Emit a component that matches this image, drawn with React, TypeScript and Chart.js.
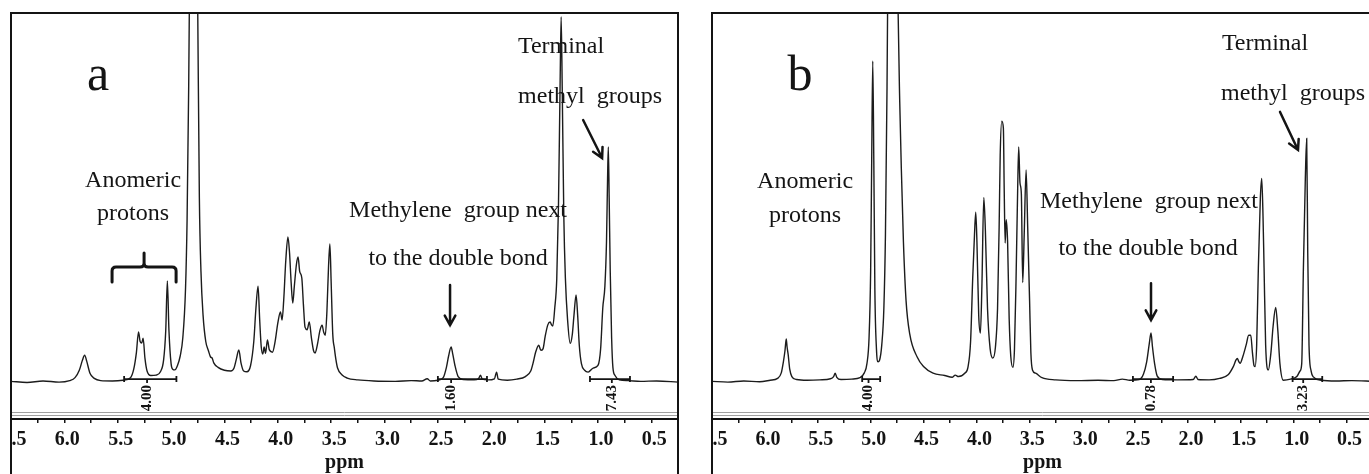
import React, { useEffect, useRef } from 'react';
import { Chart, registerables } from 'chart.js';

Chart.register(...registerables);

// ---------- axis ----------
const axisMin = 0.25;
const axisMax = 6.5;
const tickStep = 0.25;
const yMin = -10;
const yMax = 100;

// ---------- panel a spectrum (ppm, intensity) ----------
const ppmA = [
  6.5, 6.35, 6.2, 6.05, 5.95, 5.9, 5.86, 5.83, 5.81, 5.79, 5.76, 5.72, 5.66, 5.55, 5.45, 5.38, 5.35, 5.325, 5.305, 5.29,
  5.275, 5.262, 5.245, 5.225, 5.19, 5.14, 5.1, 5.07, 5.05, 5.035, 5.02, 5.0, 4.985, 4.965, 4.94, 4.915, 4.89, 4.865, 4.85, 4.835,
  4.815, 4.79, 4.765, 4.75, 4.735, 4.72, 4.7, 4.675, 4.65, 4.63, 4.615, 4.6, 4.56, 4.5, 4.44, 4.41, 4.39, 4.365, 4.345, 4.32,
  4.29, 4.255, 4.225, 4.205, 4.185, 4.17, 4.155, 4.14, 4.128, 4.115, 4.097, 4.08, 4.05, 4.025, 4.0, 3.975, 3.96, 3.945, 3.925, 3.905,
  3.89, 3.875, 3.86, 3.845, 3.825, 3.81, 3.795, 3.775, 3.76, 3.745, 3.725, 3.705, 3.685, 3.665, 3.65, 3.63, 3.605, 3.585, 3.57, 3.555,
  3.54, 3.525, 3.512, 3.5, 3.485, 3.47, 3.455, 3.44, 3.4, 3.35, 3.25, 3.1, 2.9, 2.75, 2.65, 2.6, 2.57, 2.5, 2.45, 2.42,
  2.4, 2.376, 2.36, 2.34, 2.31, 2.26, 2.16, 2.12, 2.1, 2.085, 2.03, 1.97, 1.95, 1.935, 1.85, 1.76, 1.68, 1.63, 1.605, 1.585,
  1.555, 1.535, 1.515, 1.495, 1.47, 1.448, 1.435, 1.423, 1.405, 1.386, 1.37, 1.355, 1.345, 1.335, 1.32, 1.305, 1.285, 1.26, 1.24, 1.225,
  1.205, 1.19, 1.175, 1.155, 1.125, 1.092, 1.045, 1.0, 0.975, 0.955, 0.935, 0.92, 0.91, 0.903, 0.895, 0.885, 0.872, 0.86, 0.84, 0.8,
  0.72, 0.6, 0.45, 0.25,
];
const intA = [
  0.2, -0.1, 0.3, 0.0, 0.4, 1.2, 3.2, 6.0, 7.3, 5.6, 2.4, 1.0, 0.4, 0.3, 0.5, 1.2, 3.5, 8.0, 13.6, 11.0,
  10.6, 11.9, 6.5, 3.0, 1.8, 1.9, 2.8, 6.0, 14.0, 27.4, 14.0, 5.0, 3.5, 3.3, 4.5, 7.0, 12.0, 25.0, 44.0, 80.0,
  150.0, 260.0, 150.0, 100.0, 50.0, 30.0, 18.0, 11.0, 8.5, 6.8, 6.5, 5.2, 4.0, 3.2, 3.0, 3.8, 6.0, 8.7, 5.2, 3.0,
  2.8, 4.5, 11.0, 20.0, 26.0, 17.0, 9.5, 7.6, 9.5, 7.8, 11.4, 8.8, 8.1, 11.0, 16.0, 19.0, 16.8, 22.0, 33.0, 39.3,
  35.0, 27.0, 21.4, 26.0, 32.0, 33.9, 30.0, 28.2, 21.0, 14.9, 14.2, 16.3, 12.0, 8.5, 7.9, 10.0, 14.0, 15.4, 13.5, 12.7,
  19.0, 31.0, 37.4, 27.0, 13.0, 9.2, 6.0, 3.8, 2.0, 1.1, 0.6, 0.3, 0.2, 0.4, 0.3, 0.9, 0.3, 0.5, 1.2, 4.0,
  7.0, 9.5, 7.5, 4.5, 1.5, 0.7, 0.6, 0.9, 1.9, 0.8, 0.6, 0.9, 2.7, 0.8, 0.5, 0.8, 1.5, 3.0, 5.5, 8.0,
  10.0, 8.6, 9.0, 12.3, 15.5, 16.3, 15.5, 15.2, 20.0, 28.0, 48.0, 80.0, 99.0, 80.0, 45.0, 28.0, 17.0, 10.5, 13.0, 18.0,
  23.6, 18.0, 10.0, 5.0, 3.2, 2.7, 3.8, 4.5, 9.0, 20.0, 26.0, 38.0, 55.0, 63.7, 50.0, 30.0, 12.0, 4.0, 1.8, 0.6,
  0.4, 0.2, 0.3, 0.0,
];

// ---------- panel b spectrum (ppm, intensity) ----------
const ppmB = [
  6.5, 6.35, 6.2, 6.05, 5.95, 5.88, 5.845, 5.825, 5.81, 5.798, 5.79, 5.78, 5.765, 5.745, 5.7, 5.6, 5.48, 5.38, 5.35, 5.335,
  5.32, 5.28, 5.18, 5.1, 5.06, 5.035, 5.015, 5.0, 4.99, 4.98, 4.97, 4.96, 4.945, 4.93, 4.915, 4.895, 4.875, 4.86, 4.845, 4.825,
  4.79, 4.76, 4.74, 4.725, 4.71, 4.69, 4.665, 4.63, 4.56, 4.5, 4.41, 4.3, 4.23, 4.2, 4.17, 4.11, 4.08, 4.055, 4.035, 4.018,
  4.006, 3.995, 3.978, 3.962, 3.948, 3.93, 3.915, 3.895, 3.87, 3.845, 3.82, 3.8, 3.785, 3.775, 3.76, 3.745, 3.737, 3.728, 3.718, 3.705,
  3.69, 3.675, 3.655, 3.64, 3.625, 3.61, 3.6, 3.588, 3.575, 3.562, 3.548, 3.53, 3.515, 3.497, 3.485, 3.47, 3.44, 3.38, 3.25, 3.05,
  2.85, 2.7, 2.62, 2.55, 2.46, 2.42, 2.39, 2.365, 2.349, 2.335, 2.315, 2.29, 2.24, 2.1, 1.95, 1.925, 1.905, 1.8, 1.7, 1.62,
  1.571, 1.545, 1.533, 1.52, 1.507, 1.48, 1.45, 1.425, 1.406, 1.39, 1.375, 1.365, 1.35, 1.334, 1.315, 1.302, 1.29, 1.28, 1.265, 1.24,
  1.215, 1.195, 1.17, 1.15, 1.13, 1.098, 1.03, 0.97, 0.94, 0.924, 0.908, 0.89, 0.877, 0.867, 0.855, 0.835, 0.814, 0.74, 0.6, 0.45,
  0.25,
];
const intB = [
  0.2, 0.0, 0.3, 0.1, 0.5, 1.0, 2.5, 5.5, 8.5, 11.7, 9.5, 7.5, 3.5, 1.5, 0.7, 0.5, 0.6, 0.9, 1.5, 2.4,
  1.3, 0.7, 0.8, 1.2, 2.5, 5.0, 12.0, 30.0, 60.0, 87.0, 60.0, 25.0, 9.0, 5.5, 6.0, 10.0, 20.0, 40.0, 80.0, 160.0,
  280.0, 160.0, 100.0, 76.0, 58.0, 38.0, 22.0, 13.0, 6.8, 4.2, 2.4, 1.8, 1.3, 1.9, 1.5, 2.4, 4.0, 11.0, 28.0, 40.0,
  46.0, 38.0, 18.0, 13.3, 26.0, 50.0, 41.0, 20.0, 9.0, 6.5, 9.5, 20.0, 42.0, 61.5, 70.7, 68.8, 52.0, 37.7, 44.0, 38.0,
  17.0, 7.0, 4.0, 9.0, 28.0, 52.0, 63.7, 54.0, 51.0, 27.0, 40.0, 57.5, 42.0, 22.0, 8.0, 3.3, 2.4, 1.2, 0.6, 0.4,
  0.5, 0.4, 0.8, 0.5, 0.7, 2.2, 5.5, 10.5, 13.3, 9.5, 5.0, 1.6, 0.7, 0.6, 0.7, 1.6, 0.7, 0.6, 1.0, 2.0,
  4.2, 6.0, 6.4, 5.6, 5.1, 7.0, 10.0, 12.7, 12.7, 8.0, 4.5, 4.2, 10.0, 31.0, 50.0, 55.2, 45.0, 31.0, 10.0, 3.3,
  8.0, 15.0, 20.2, 14.0, 5.0, 0.5, 0.8, 1.5, 3.0, 5.0, 31.0, 55.0, 66.0, 35.0, 10.0, 3.0, 1.4, 0.5, 0.3, 0.4,
  0.2,
];

// ---------- integrals: [from ppm, to ppm, label ppm] and values ----------
const integralRangesA = [[5.44, 4.95, 5.225], [2.5, 2.04, 2.376], [1.075, 0.7, 0.87]];
const integralValuesA = ['4.00', '1.60', '7.43'];
const integralRangesB = [[5.08, 4.91, 5.02], [2.52, 2.14, 2.35], [1.01, 0.73, 0.91]];
const integralValuesB = ['4.00', '0.78', '3.23'];

// ---------- annotations (ppm, intensity) ----------
type TextNote = { text: string; ppm: number; y: number; size: number };
const notesA: TextNote[] = [
  { text: 'a', ppm: 5.684, y: 79.1, size: 50 },
  { text: 'Anomeric', ppm: 5.356, y: 52.8, size: 24 },
  { text: 'protons', ppm: 5.356, y: 43.9, size: 24 },
  { text: 'Methylene  group next', ppm: 2.311, y: 44.7, size: 24 },
  { text: 'to the double bond', ppm: 2.311, y: 31.7, size: 24 },
  { text: 'Terminal', ppm: 1.346, y: 89.2, size: 24 },
  { text: 'methyl  groups', ppm: 1.074, y: 75.6, size: 24 },
];
const notesB: TextNote[] = [
  { text: 'b', ppm: 5.668, y: 79.1, size: 50 },
  { text: 'Anomeric', ppm: 5.62, y: 52.6, size: 24 },
  { text: 'protons', ppm: 5.62, y: 43.4, size: 24 },
  { text: 'Methylene  group next', ppm: 2.368, y: 47.2, size: 24 },
  { text: 'to the double bond', ppm: 2.377, y: 34.4, size: 24 },
  { text: 'Terminal', ppm: 1.271, y: 90.0, size: 24 },
  { text: 'methyl  groups', ppm: 1.006, y: 76.4, size: 24 },
];
// arrows: [fromPpm, fromY, toPpm, toY]
const arrowsA = [[2.386, 26.3, 2.386, 15.4], [1.139, 71.0, 0.961, 60.7]];
const arrowsB = [[2.349, 26.8, 2.349, 16.8], [1.129, 73.2, 0.959, 62.9]];
// bracket: [leftPpm, rightPpm, midPpm, barY, endY, tipY]
const bracketsA = [[5.553, 4.953, 5.253, 31.2, 27.1, 35.0]];
const bracketsB: number[][] = [];

const SERIF = "'Liberation Serif', 'Times New Roman', serif";
const INK = '#141414';

type Panel = {
  ppm: number[];
  ints: number[];
  ranges: number[][];
  values: string[];
  notes: TextNote[];
  arrows: number[][];
  brackets: number[][];
  padLeft: number;
  padRight: number;
};

function decorPlugin(p: Panel) {
  return {
    id: 'decor',
    afterDraw(chart: any) {
      const { ctx, chartArea: ca, scales } = chart;
      const x = scales.x;
      const y = scales.y;
      const H = chart.height;
      ctx.save();
      // hide the part of the first tick label that lies outside the frame
      ctx.fillStyle = '#ffffff';
      ctx.fillRect(0, ca.bottom + 1, ca.left, H - ca.bottom);
      // grey double line above the axis
      ctx.strokeStyle = '#a0a0a0';
      ctx.lineWidth = 1;
      ctx.beginPath();
      ctx.moveTo(ca.left, ca.bottom - 6.5);
      ctx.lineTo(ca.right, ca.bottom - 6.5);
      ctx.moveTo(ca.left, ca.bottom - 3.5);
      ctx.lineTo(ca.right, ca.bottom - 3.5);
      ctx.stroke();
      // frame
      ctx.strokeStyle = INK;
      ctx.lineWidth = 2;
      ctx.beginPath();
      ctx.moveTo(ca.left, H);
      ctx.lineTo(ca.left, ca.top);
      ctx.lineTo(ca.right, ca.top);
      ctx.lineTo(ca.right, H);
      ctx.stroke();
      // integrals
      const base = y.getPixelForValue(0);
      const barY = base - 3;
      p.ranges.forEach((r, i) => {
        const x1 = x.getPixelForValue(r[0]);
        const x2 = x.getPixelForValue(r[1]);
        const xl = x.getPixelForValue(r[2]);
        ctx.strokeStyle = INK;
        ctx.lineWidth = 1.8;
        ctx.beginPath();
        ctx.moveTo(x1, barY);
        ctx.lineTo(x2, barY);
        ctx.moveTo(x1, barY - 3);
        ctx.lineTo(x1, barY + 3);
        ctx.moveTo(x2, barY - 3);
        ctx.lineTo(x2, barY + 3);
        ctx.moveTo(xl, barY);
        ctx.lineTo(xl, barY + 4);
        ctx.stroke();
        ctx.save();
        ctx.translate(xl, barY + 19);
        ctx.rotate(-Math.PI / 2);
        ctx.fillStyle = INK;
        ctx.font = `bold 15px ${SERIF}`;
        ctx.textAlign = 'center';
        ctx.textBaseline = 'middle';
        ctx.fillText(p.values[i], 0, 0);
        ctx.restore();
      });
      // text notes
      ctx.fillStyle = INK;
      ctx.textAlign = 'center';
      ctx.textBaseline = 'alphabetic';
      p.notes.forEach((n) => {
        ctx.font = `${n.size}px ${SERIF}`;
        ctx.fillText(n.text, x.getPixelForValue(n.ppm), y.getPixelForValue(n.y));
      });
      // arrows
      ctx.strokeStyle = INK;
      ctx.lineWidth = 2.5;
      ctx.lineCap = 'round';
      p.arrows.forEach((a) => {
        const x1 = x.getPixelForValue(a[0]);
        const y1 = y.getPixelForValue(a[1]);
        const x2 = x.getPixelForValue(a[2]);
        const y2 = y.getPixelForValue(a[3]);
        const ang = Math.atan2(y2 - y1, x2 - x1);
        const L = 11;
        ctx.beginPath();
        ctx.moveTo(x1, y1);
        ctx.lineTo(x2, y2);
        ctx.moveTo(x2 - L * Math.cos(ang - 0.5), y2 - L * Math.sin(ang - 0.5));
        ctx.lineTo(x2, y2);
        ctx.lineTo(x2 - L * Math.cos(ang + 0.5), y2 - L * Math.sin(ang + 0.5));
        ctx.stroke();
      });
      // brackets
      ctx.lineWidth = 3;
      ctx.lineJoin = 'round';
      p.brackets.forEach((b) => {
        const xl = x.getPixelForValue(b[0]);
        const xr = x.getPixelForValue(b[1]);
        const xm = x.getPixelForValue(b[2]);
        const yb = y.getPixelForValue(b[3]);
        const ye = y.getPixelForValue(b[4]);
        const yt = y.getPixelForValue(b[5]);
        const r = 4;
        ctx.beginPath();
        ctx.moveTo(xl, ye);
        ctx.lineTo(xl, yb + r);
        ctx.quadraticCurveTo(xl, yb, xl + r, yb);
        ctx.lineTo(xm - r, yb);
        ctx.quadraticCurveTo(xm, yb, xm, yb - r);
        ctx.lineTo(xm, yt);
        ctx.moveTo(xm, yb - r);
        ctx.quadraticCurveTo(xm, yb, xm + r, yb);
        ctx.lineTo(xr - r, yb);
        ctx.quadraticCurveTo(xr, yb, xr, yb + r);
        ctx.lineTo(xr, ye);
        ctx.stroke();
      });
      ctx.restore();
    },
  };
}

function makeConfig(p: Panel): any {
  return {
    type: 'line',
    data: {
      datasets: [
        {
          data: p.ppm.map((v, i) => ({ x: v, y: p.ints[i] })),
          borderColor: '#1c1c1c',
          borderWidth: 1.4,
          pointRadius: 0,
          fill: false,
          cubicInterpolationMode: 'monotone',
        },
      ],
    },
    options: {
      responsive: false,
      animation: false,
      devicePixelRatio: 1,
      layout: { padding: { left: p.padLeft, right: p.padRight, top: 13, bottom: 0 } },
      plugins: { legend: { display: false }, tooltip: { enabled: false }, title: { display: false } },
      scales: {
        x: {
          type: 'linear',
          reverse: true,
          min: axisMin,
          max: axisMax,
          afterFit: (s: any) => {
            s.paddingLeft = 0;
            s.paddingRight = 0;
          },
          ticks: {
            stepSize: tickStep,
            autoSkip: false,
            maxRotation: 0,
            minRotation: 0,
            padding: 5,
            labelOffset: 3,
            color: INK,
            font: { family: SERIF, size: 20, weight: 'bold', lineHeight: 1.2 },
            callback: (v: number) => (Math.abs(v * 2 - Math.round(v * 2)) < 1e-6 ? Number(v).toFixed(1) : ''),
          },
          grid: { drawOnChartArea: false, drawTicks: true, tickLength: 4, color: INK, lineWidth: 1.5 },
          border: { display: true, color: INK, width: 2 },
          title: {
            display: true,
            text: 'ppm',
            color: INK,
            font: { family: SERIF, size: 20, weight: 'bold', lineHeight: 0.6 },
            padding: { top: 0, bottom: 5 },
          },
        },
        y: { display: false, min: yMin, max: yMax },
      },
    },
    plugins: [decorPlugin(p)],
  };
}

const panelA: Panel = {
  ppm: ppmA, ints: intA, ranges: integralRangesA, values: integralValuesA,
  notes: notesA, arrows: arrowsA, brackets: bracketsA, padLeft: 11, padRight: 12,
};
const panelB: Panel = {
  ppm: ppmB, ints: intB, ranges: integralRangesB, values: integralValuesB,
  notes: notesB, arrows: arrowsB, brackets: bracketsB, padLeft: 22, padRight: 7,
};

function SpectrumCanvas({ panel, left }: { panel: Panel; left: number }) {
  const ref = useRef<HTMLCanvasElement | null>(null);
  useEffect(() => {
    if (!ref.current) return;
    const chart = new Chart(ref.current, makeConfig(panel));
    return () => chart.destroy();
  }, [panel]);
  return (
    <canvas
      ref={ref}
      width={690}
      height={474}
      style={{ position: 'absolute', left, top: 0, width: 690, height: 474 }}
    />
  );
}

export default function App() {
  return (
    <div
      style={{
        position: 'absolute',
        left: 0,
        top: 0,
        width: 1369,
        height: 474,
        overflow: 'hidden',
        background: '#ffffff',
      }}
    >
      <SpectrumCanvas panel={panelA} left={0} />
      <SpectrumCanvas panel={panelB} left={690} />
    </div>
  );
}
